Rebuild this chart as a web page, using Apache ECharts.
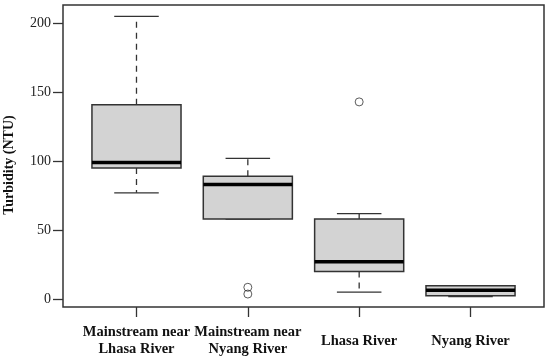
<!DOCTYPE html>
<html>
<head>
<meta charset="utf-8">
<script src="https://cdn.jsdelivr.net/npm/echarts@6/dist/echarts.min.js"></script>
<style>html,body{margin:0;padding:0;background:#fff;}#c{width:550px;height:360px;}</style>
</head>
<body>
<div id="c"></div>
<script>
const categories = ['Mainstream near\nLhasa River', 'Mainstream near\nNyang River', 'Lhasa River', 'Nyang River'];
const lowerWhisker = [77, 58, 5, 1.7];
const q1 = [95, 58, 20, 2.4];
const median = [99, 83, 27, 6.3];
const q3 = [141, 89, 58, 9.7];
const upperWhisker = [205, 102, 62, 9.7];
const outliers = [[2, 8.5], [2, 3.6], [3, 143]];
const yTicks = [0, 50, 100, 150, 200];

const boxData = categories.map((c, i) => [i + 1, lowerWhisker[i], q1[i], median[i], q3[i], upperWhisker[i]]);

const lineColor = '#333';
function renderItem(params, api) {
  const x = api.value(0);
  const pLo = api.coord([x, api.value(1)]);
  const pQ1 = api.coord([x, api.value(2)]);
  const pMed = api.coord([x, api.value(3)]);
  const pQ3 = api.coord([x, api.value(4)]);
  const pHi = api.coord([x, api.value(5)]);
  const halfBox = api.size([0.4, 0])[0];
  const halfCap = api.size([0.2, 0])[0];
  const cx = pMed[0];
  const dashStyle = {stroke: lineColor, lineWidth: 1.3, lineDash: [6, 5], fill: null};
  const solid = {stroke: lineColor, lineWidth: 1.3, fill: null};
  return {
    type: 'group',
    children: [
      {type: 'line', shape: {x1: cx, y1: pQ3[1], x2: cx, y2: pHi[1]}, style: dashStyle},
      {type: 'line', shape: {x1: cx, y1: pQ1[1], x2: cx, y2: pLo[1]}, style: dashStyle},
      {type: 'line', shape: {x1: cx - halfCap, y1: pHi[1], x2: cx + halfCap, y2: pHi[1]}, style: solid},
      {type: 'line', shape: {x1: cx - halfCap, y1: pLo[1], x2: cx + halfCap, y2: pLo[1]}, style: solid},
      {type: 'rect', shape: {x: cx - halfBox, y: pQ3[1], width: 2 * halfBox, height: pQ1[1] - pQ3[1]},
        style: {fill: '#d3d3d3', stroke: lineColor, lineWidth: 1.5}},
      {type: 'line', shape: {x1: cx - halfBox, y1: pMed[1], x2: cx + halfBox, y2: pMed[1]},
        style: {stroke: '#000', lineWidth: 3.5}}
    ]
  };
}

const chart = echarts.init(document.getElementById('c'), null, {renderer: 'canvas'});
chart.setOption({
  animation: false,
  backgroundColor: '#fff',
  textStyle: {fontFamily: 'Liberation Serif'},
  grid: {left: 63, right: 6, top: 5, bottom: 53, show: true, borderColor: '#333', borderWidth: 1.5,
    backgroundColor: 'transparent', containLabel: false, outerBoundsMode: 'none'},
  xAxis: {
    type: 'value', min: 0.34, max: 4.66,
    axisLine: {show: false, onZero: false},
    splitLine: {show: false},
    axisTick: {show: true, inside: false, length: 10, customValues: [1, 2, 3, 4], lineStyle: {color: '#333', width: 1.3}},
    axisLabel: {
      customValues: [1, 2, 3, 4],
      formatter: v => categories[Math.round(v) - 1],
      fontFamily: 'Liberation Serif', fontWeight: 'bold', fontSize: 14.5, color: '#111',
      lineHeight: 17, margin: 34, verticalAlign: 'middle'
    }
  },
  yAxis: {
    type: 'value', min: -5.8, max: 213.3,
    axisLine: {show: false, onZero: false},
    splitLine: {show: false},
    axisTick: {show: true, inside: false, length: 10, customValues: yTicks, lineStyle: {color: '#333', width: 1.3}},
    axisLabel: {customValues: yTicks, fontFamily: 'Liberation Serif', fontSize: 14, color: '#222', margin: 12},
    name: 'Turbidity (NTU)', nameLocation: 'middle', nameGap: 47,
    nameTextStyle: {fontFamily: 'Liberation Serif', fontWeight: 'bold', fontSize: 14, color: '#111', padding: [0, 18, 0, 0]}
  },
  series: [
    {type: 'custom', renderItem: renderItem, data: boxData, encode: {x: 0, y: [1, 2, 3, 4, 5]}, clip: false, z: 2},
    {type: 'scatter', data: outliers, symbol: 'circle', symbolSize: 8,
      itemStyle: {color: 'rgba(255,255,255,0)', borderColor: '#333', borderWidth: 1}, z: 3}
  ]
});
</script>
</body>
</html>
